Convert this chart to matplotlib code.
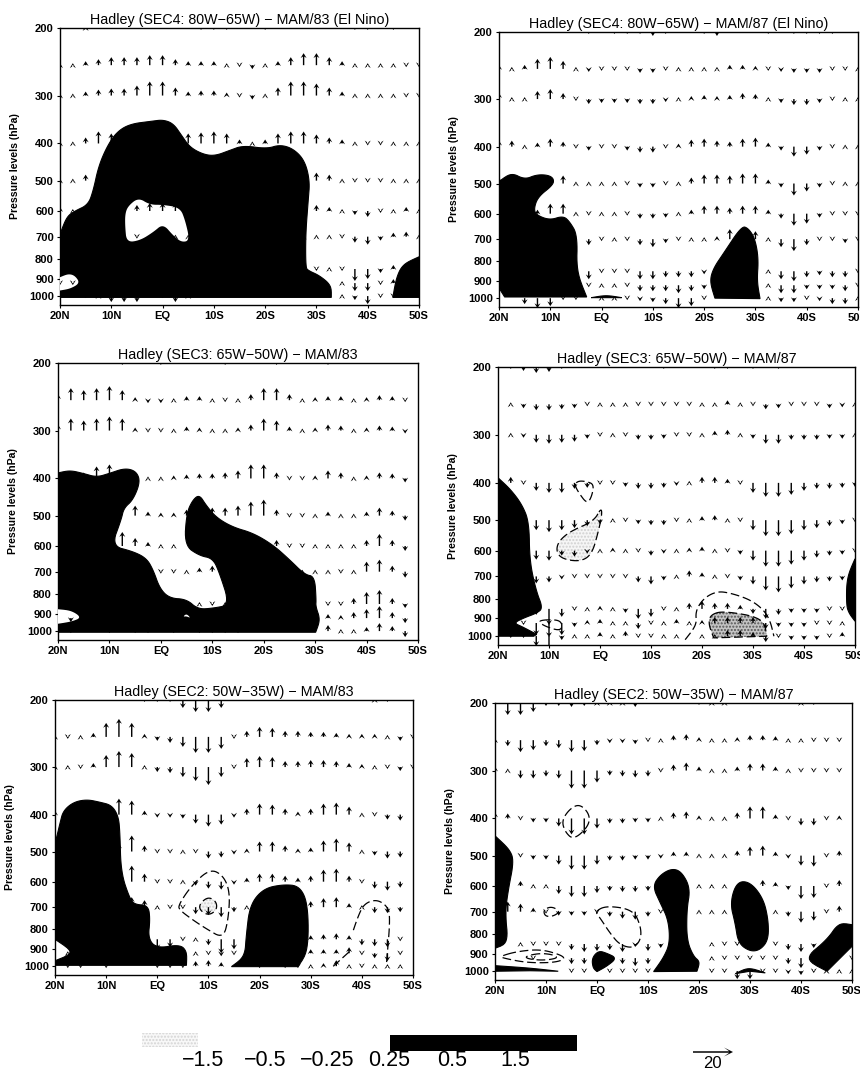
import numpy as np
import matplotlib
matplotlib.use("Agg")
import matplotlib.pyplot as plt

plt.rcParams['font.family'] = ['Liberation Sans', 'DejaVu Sans']

lats = [20 - 2.5 * i for i in range(29)]
levels = [200, 250, 300, 400, 500, 600, 700, 850, 925, 1000]
p_ticks = [200, 300, 400, 500, 600, 700, 800, 900, 1000]
lat_ticks = [20, 10, 0, -10, -20, -30, -40, -50]
lat_labels = ['20N', '10N', 'EQ', '10S', '20S', '30S', '40S', '50S']

titles = ['Hadley (SEC4: 80W\u221265W) \u2212 MAM/83 (El Nino)',
          'Hadley (SEC4: 80W\u221265W) \u2212 MAM/87 (El Nino)',
          'Hadley (SEC3: 65W\u221250W) \u2212 MAM/83',
          'Hadley (SEC3: 65W\u221250W) \u2212 MAM/87',
          'Hadley (SEC2: 50W\u221235W) \u2212 MAM/83',
          'Hadley (SEC2: 50W\u221235W) \u2212 MAM/87']

# vertical wind, one row per level, 0 = hidden by the shading or not drawn
w_sec4_83 = [
    [0,0,1,0,0, 0,0,0,0,0, 0,-1,-1,-1,0, 0,-1,0,0,0, 0,0,0,-1,-1, 0,-1,0,0],
    [1,1,2,3,4, 4,4,5,5,3, 2,2,2,1,-1, -2,1,2,4,6, 6,4,2,1,1, 1,1,-1,-1],
    [1,1,2,3,3.5, 3.5,5,7,7,4, 2,2.5,2.5,1.5,-1, -2,1,4,7,7, 6,4,2,1,1, 1,1,-1,-1],
    [1,1,3,6,5, 0,0,0,0,0, 5,5.5,6,5,2, 1,2,5,6,6, 4.5,3,2,1,-1, -1,1,1,1],
    [1,1,3,0,0, 0,0,0,0,0, 0,0,0,0,0, 0,0,0,0,0, 4,3,1,-1,-1, -1,1,1,1],
    [2,1,2,0,0, 0,3,4,4,4, 0,0,0,0,0, 0,0,0,0,0, 3,2,1,-2,-3, -1,1,2,1],
    [1,0,0,0,0, 0,-1,0,0,1, 1,0,0,0,0, 0,0,0,0,1, 1,1,-1,-3,-4, -2,2,2.5,1],
    [0,0,0,0,0, 0,0,0,0,0, 0,0,0,0,0, 0,0,0,0,0, -1,1,-1,-6,-5, -2,2,0,0],
    [-1,-1,0,0,0, 0,0,0,0,0, 0,0,0,0,0, 0,0,0,0,0, 0,0,1,-4,-4, -1,2,0,0],
    [0,0,-1,1,-3, -3,-3,0,-1,-3, 1,0,0,0,0, 0,0,0,0,0, 0,0,1,-2,-4, -1,-1,0,0],
]
w_sec4_87 = [
    [0,0,0,0,0, 0,0,-1,0,-1, -1,-1,-2,-1,0, 0,-1,-2,0,0, 0,-1,0,-1,-1, -1,-1,0,0],
    [2,1,2,5,6, 4,1,-1.5,-1,-1, -1,-2,-2,-1,1, 1,1,1,2,2, 1.5,-1,-1.5,-2,-2, -2,-1,-1,1],
    [3,1,1,4,5, 3,-1,-2.5,-2,-2, -2,-2.5,-2.5,-1.5,1, 1.5,2,1.5,2,3, 2.5,1,-2,-3,-3, -2,-1,1,1],
    [3,3,1,2,4, 2.5,-1,-2,-1,-1, -2,-3,-3,-1,1.5, 3.5,4,3,2.5,4, 4.5,2,-2,-5,-4, -2,-1,1,1],
    [3,0,0,0,3, 4,1,1,1,1, -1,-2,-2,-1,1, 3,4.5,4.5,4,5, 5,2,-2,-6,-4, -2,-1,1,1],
    [0,0,0,2,5, 5,1,-1,1,1, -1,-2.5,-2.5,-2,1, 2,4,4,3,4, 4,2,-2.5,-6,-5, -2,-1,-1,-1],
    [0,0,0,0,0, 0,0,-3,-1,1, -1,-3,-4,-2,-1, 1,1,1.5,5,0, 4,1,-4,-6,-3, -1,-1,-2,-1],
    [0,0,0,0,0, 0,0,-4,-1,-1, -1,-4,-4,-3,-3, -3,-1.5,0,0,0, 0,1,-4,-5,-3, -2,-3,-3,-1],
    [0,0,0,0,0, 0,0,-1,1,1, -1,-3,-3,-3,-4, -3,-2,0,0,0, 0,1,-4,-4,-2, -2,-2,-3,-1],
    [0,0,-3,-5,-4, -1,-1,0,1,1, -1,-1.5,-2,-3,-5, -4,-1,0,0,0, 0,1,-2,-2,-1, -1.5,-3,-3,1],
]
w_sec3_83 = [
    [0,0,0,0,0, -1,0,0,-1,0, 0,0,0,-1,0, 0,0,-1,0,0, 0,-1,0,0,0, 0,0,0,0],
    [3,6,5,6,7, 5,1.5,-1.5,-1.5,1, 2,2,1,-1,1, 3,6,6,3,1, 1.5,2,2,1,1.5, 2.5,2,-1,0],
    [3,6,5,6,7, 6,1.5,-1,-1,1, 2,1.5,1,1,1.5, 3,6,5,2,1, 1.5,3,2.5,1,1.5, 2.5,2,-1.5,0],
    [3,2,3,6,7, 3,0,1,1,1.5, 2,2.5,2.5,3,4, 7,7,3,-1,-1, 1.5,4,3,1,1.5, 3,2.5,-2,0],
    [0,0,0,0,0, 0,5,2,1.5,1.5, 3,0,4,4,5, 7,8,3,-1,-1, 1,2,1,1,2, 4,2.5,-2.5,0],
    [0,0,0,0,0, 7,4,2,1,1, 0,0,0,0,0, 0,3,3,-1,-1, 1,1,1,1,3, 6,3,-2.5,0],
    [0,0,0,0,0, 0,0,0,-1,-1, 1,2,3,0,0, 0,0,0,0,1, 1,1,-1,1,5, 6,3,-3,0],
    [0,0,0,0,0, 0,0,0,0,0, 0,1,-1,1,0, 0,0,0,0,0, 0,-1,-1,3,6, 7,3,-2,0],
    [0,-2,0,0,0, 0,0,0,0,0, 0,0,0,0,0, 0,0,0,0,0, 0,2,1.5,3,4.5, 6,3,-2.5,0],
    [0,-1,0,0,-1, 0,-1,-1,0,-1, 0,-1,-1,-1,-1, 0,0,0,0,0, 0,3,1,1,2, 4,2.5,-3,0],
]
w_sec3_87 = [
    [0,-1,-2,-3,-2.5, -1,0,0,0,0, 0,0,0,-1,0, 0,0,-1,-1,0, -1,0,-1,0,0, 0,0,0,0],
    [0,1,-2,-3,-3, -2.5,-2,-1,1,1, 1,-1,-1,-1,-1, -1,1,1,2,1, -1,-2.5,-2,-1,-1, -1,-2,-1.5,1],
    [0,1,-1.5,-4,-4.5, -4,-3.5,-2,-1,1, -1,-2.5,-2.5,-2,-1, -1,1,2,2.5,1, -2,-4.5,-4.5,-2.5,-2.5, -2.5,-2,-2,1],
    [3,3,-1,-4,-5, -5,-3,-2.5,-1,-1, -2,-3,-3,-2.5,-1.5, 1,3,3,2,-1, -5,-7,-7,-6,-4, -3,-3,-2.5,-2],
    [0,0,0,-5,-6, -5,-4,-3,-2,1, -1,-2,-2.5,-2.5,-1, 1,2,2.5,1,-1, -5,-8,-8,-7,-5, -4,-3,-2,-1],
    [0,0,0,-4.5,-5, -2.5,-3,-1.5,1,1.5, 1,-1,-2.5,-1.5,1, 1.5,2,1,-1,-2, -5,-8,-8,-7,-5, -3.5,-2.5,-2,-1],
    [0,0,0,-3.5,-3, -1.5,-1,-1,-1,-1, -1,-3,-4,-2,1, 3,2,1,-1,-2, -4,-7,-8,-6,-4, -3,-2.5,-2,0],
    [0,0,0,-3,-8, -4,-1,1,1.5,1, -2,-5,-4,-1,1, 3,4,3,3,2, -2.5,-5,-3,-2,-2, -2,-1,-1,0],
    [0,0,-1,-6,-7, -6,-2,1.5,2,1, 1,-3,-1,1,2, 1,1.5,3,3,3, 3,-3,-2,-2,-2, -1,-1,1,0],
    [0,-1,-1,-5,-9, -2,1,1,2,1, 2.5,-1,-1,1,1, 0,1,1,3,3, 2,-3,-1,-2,-2, -2,-1,2,0],
]
w_sec2_83 = [
    [0,0,0,0,0, 0,0,-1,-1,-1, -4,-6,-6,-4,0, 0,0,0,0,0, 0,0,0,0,0, 1,-1,0,0],
    [1,-1,1,2,7, 9,7,1.5,-2,-3, -5,-8,-8,-6,-1, 3,5,4.5,3,3, 2.5,2.5,2,1.5,1.5, 1.5,1,-2,-1],
    [1,1,-1,2,6, 8,7,1,-2.5,-3, -5,-7,-9,-5,-1, 4.5,5.5,5,3,3, 3.5,3.5,3,2,1.5, 1,-1,-2,-1],
    [2,0,0,0,0, 8,7,2,-1.5,-1.5, -2,-4.5,-6,-5,-1.5, 3,5.5,5,3,1.5, 3,5.5,6,4,1, -1,-2.5,-3,0],
    [0,0,0,0,0, 4,8,3,-1,-1, 1,-1,-3.5,-3,-1.5, 1.5,5,5,3,1.5, 2,5.5,6.5,4.5,1, -2,-3.5,-3,0],
    [0,0,0,0,0, 2,8,4,-1,-1, 1,-2,-3.5,-4,-1.5, 2,4,4,3,2, 3,6,6.5,3,-1, -3.5,-4.5,-3,0],
    [0,0,0,0,0, 0,5,3.5,1,-1, -1,-3.5,-4,-5,-2.5, 1,0,0,0,0, 3,4.5,5,2,1, -3,-3,-2.5,0],
    [0,0,0,0,0, 0,0,0,-5,-4, -1,1,-3,-7,-5, 0,0,0,0,0, 2,2.5,3,2,-3, -3.5,-4,-1,0],
    [0,1,0,0,0, 0,0,0,0,0, 0,1,-1,-1.5,-1, 0,0,0,0,0, 2,2,2,3,-1, -2.5,-4,-1,0],
    [0,-1,-1,0,-1, 0,0,0,-1,-1, -1,2.5,3,2,0, 0,-1,0,-1,-1, 1,1.5,3,1,-1, 1,1,1,0],
]
w_sec2_87 = [
    [0,-6,-6,-4.5,-1.5, -1.5,-2,-1.5,1,1, 1,-2,0,0,0, 0,-1,1,1,0, 0,0,0,0,1, -1,0,0,0],
    [1,-3,-6,-5,-3, -4,-6,-5.5,-2.5,-1.5, -1.5,-2,-1,1,2.5, 3,1.5,1,1,1.5, 2.5,2.5,2,1,1, -1,-1,-1,0],
    [2,1,-4,-4,-3, -4,-9,-9,-6,-2.5, -3,-3.5,-3,-1,3, 4,2,1,1,2, 3.5,3.5,2,1,-1, -1,-1,-1,0],
    [3,2.5,-1,-2,-2, -4,-8,-8,-5,-2.5, -2.5,-2,-2,1,3, 3.5,1.5,1,1,3, 6,6,2,-1,-3.5, -3.5,-1,1.5,0],
    [0,0,-1,-2,-2, -4.5,-7,-7,-4.5,-2.5, -2.5,-2,-2,-1.5,2, 2,1,1,1,2.5, 4.5,5,2,-1.5,-5, -5.5,-1,2.5,0],
    [0,0,2.5,1,1, -4,-5.5,-5.5,-3.5,-2.5, -3,-3,-2.5,0,0, 0,1,1,1,0, 0,3,2,-2,-6.5, -6,-1,3,0],
    [0,5,4,2,-1, -2,-2,-2,-1,-2.5, -3.5,-4,-2.5,-1,0, 0,1,1,1,0, 0,0,1,-2.5,-5.5, -4.5,-1,3,0],
    [0,0,1,-1,-1, -1,-3,-4,-3.5,-3, -4,-1.5,-3.5,-2,0, 0,0,1,-1,-1, 0,0,-1,-3,-4, -2,0,0,0],
    [0,0,0,-1,0, 0,-3,-3,-3,1, -3,-4,-3,0,0, 0,0,1,-1,-1, -1,-1,-1,-3,-5, 0,0,0,-1],
    [0,0,0,0,0, 0,-1,-1,0,-1, -1,-1,-1,0,0, 0,0,-1,-1,-4, -4,-1,-1,-1.5,-2, -1,1,1,1],
]

# shaded (> 0.25) regions as (lat, pressure) outlines
black_sec4_83 = [
    [(20,1008),(20,690),(18.7,621),(17.1,600),(14.5,578),(13.5,530),(12.5,460),(10.9,409),(9,374),(6.4,356),
     (2.1,350),(-0.1,347),(-2.1,355),(-3.7,381),(-5.3,409),(-7.9,427),(-10.2,431),(-13.1,417),(-15.7,405),
     (-20.3,413),(-22.9,403),(-25.5,413),(-27.7,443),(-28.7,500),(-28.4,563),(-27.9,688),(-27.9,841),
     (-28.4,858),(-30.6,884),(-32.9,938),(-32.9,1008)],
    [(-44.9,1008),(-45.6,893),(-46.9,825),(-50,790),(-50,1008)],
]
holes_sec4_83 = [
    [(7.3,610),(6.7,582),(4.7,554),(2.5,578),(-0.1,578),(-3.4,588),(-4.4,634),(-5.3,716),(-3.7,724),(-2.1,696),
     (-0.1,648),(1.8,681),(4.4,716),(7,724),(7.3,660)],
    [(20,893),(18.4,875),(17.1,884),(16.1,925),(18,957),(20,967)],
]
black_sec4_87 = [
    [(20,940),(18.9,993),(2.9,993),(4.9,851),(4.7,683),(6.2,630),(7.5,608),(10.1,624),(12.7,605),(13.2,583),
     (12.4,542),(9.5,505),(9.3,486),(10.4,475),(12.7,474),(15,488),(17.6,468),(20,494)],
    [(2,997),(-0.9,982),(-3.9,997)],
    [(-22.1,1000),(-21.1,903),(-21.8,835),(-23.8,762),(-27.3,647),(-28.6,655),(-29.9,697),(-30.6,787),(-30.3,903),(-30.9,1003)],
]
black_sec3_83 = [
    [(20,387),(17.7,381),(15.1,388),(12.5,397),(10,388),(7,376),(4.8,383),(4,408),(5.4,455),(7.2,478),(7.7,512),
     (9.6,600),(5.4,620),(2.8,646),(1.5,692),(0.2,775),(-1.7,821),(-5,826),(-7.2,877),(-10.1,872),(-13.4,855),
     (-11.4,705),(-10.1,646),(-7.5,636),(-4.6,598),(-5,493),(-6.2,455),(-7.5,441),(-8.8,470),(-10.8,506),
     (-14,536),(-17.9,555),(-21.8,596),(-25,651),(-28,713),(-29.9,720),(-30.2,829),(-30.1,862),(-31,934),
     (-30.1,1007),(20,1007)],
]
holes_sec3_83 = [
    [(20,877),(17.4,884),(15.4,922),(17.4,945),(20,957)],
    [(-4.3,917),(-5,901),(-5.8,925),(-5,915)],
]
black_sec3_87 = [
    [(20,388),(17.6,415),(15.3,455),(13.9,506),(13.8,638),(12.5,765),(11.2,846),(12.4,872),(15,898),(16.9,925),
     (15.3,945),(12.4,990),(13,1001),(20,1001)],
    [(-50,630),(-48.4,705),(-48.3,829),(-48.8,872),(-50,915)],
]
black_sec2_83 = [
    [(20,478),(19,420),(18.4,391),(16.4,371),(13.8,365),(11.2,371),(8.9,378),(7.6,404),(7.3,446),(7.1,567),
     (5.4,664),(4.4,689),(1.8,692),(1.4,751),(1.8,846),(0.1,898),(-4.4,877),(-5.8,915),(-5.7,995),(20,995),
     (20,968),(16.1,922),(20,850)],
    [(-14.5,1003),(-17.1,945),(-17.4,829),(-18.1,692),(-20.7,626),(-24.6,610),(-27.9,616),(-29.5,692),
     (-29.5,915),(-27.5,1003)],
]
black_sec2_87 = [
    [(20,444),(17.1,482),(16.3,517),(17.4,614),(18,705),(17.4,846),(20,872)],
    [(20,968),(13.1,982),(7.6,1001),(13.1,998),(20,1001)],
    [(1,925),(-0.3,885),(-1.9,898),(-3.9,925),(-1.9,972),(0,1003),(0.8,982)],
    [(-10.9,601),(-12.4,561),(-14.7,540),(-16.6,551),(-18.3,608),(-17.6,692),(-17.6,829),(-18.9,915),(-20.2,945),
     (-19.6,1001),(-11.1,1003),(-13,925),(-14.3,846),(-14,736),(-12.4,664)],
    [(-27.4,585),(-30,585),(-32.6,646),(-33.6,736),(-33.6,829),(-32,881),(-30,889),(-27.7,846),(-27.1,751),(-26.1,664)],
    [(-27.1,1016),(-29.7,977),(-33,1011),(-30,1001)],
    [(-40.5,930),(-45.1,829),(-47.4,748),(-50,757),(-50,862),(-45.1,1001)],
]

# dashed negative contours, (outline, closed, stipple colour or None)
dash_sec3_87 = [
    ([(5,404),(4.2,395),(2.5,397),(1.2,404),(1.6,433),(2.5,454),(4.2,424)], True, None),
    ([(-0.2,465),(1.2,503),(5.8,534),(8.1,567),(8.6,601),(7.5,630),(3.9,641),(1.6,614),(0.3,534),(-0.4,482)], True, 'light'),
    ([(-16.7,1022),(-19,934),(-18.7,862),(-20.3,798),(-22.9,765),(-25.6,773),(-29.5,805),(-32.1,855),(-33.4,915),(-34.1,1001)], False, None),
    ([(-21.6,881),(-24.2,860),(-32.1,898),(-32.7,1001),(-22.3,1011),(-21.3,934)], True, 'dark'),
    ([(12.2,915),(10.4,906),(7.5,911),(7.5,972),(10.7,945)], True, None),
]
dash_sec2_83 = [
    ([(-4.1,692),(-6.7,614),(-10.3,555),(-12.9,578),(-14.2,638),(-13.9,751),(-12.9,846),(-9.6,798),(-7,757),(-4.4,713)], True, None),
    ([(-8.3,685),(-10,657),(-11.6,678),(-11.6,713),(-10,736),(-8.3,713)], True, 'light'),
    ([(-37.6,862),(-39.3,736),(-40.5,685),(-42.8,668),(-44.8,692),(-45.6,736),(-44.8,989)], False, None),
    ([(-34.4,1001),(-37.6,915)], False, None),
]
dash_sec2_87 = [
    ([(6.9,404),(5.2,376),(3.3,367),(1.4,391),(1.7,420),(4.6,455),(6.3,433)], True, None),
    ([(10.5,692),(8.9,678),(7.2,699),(8.6,720),(10.2,720)], True, None),
    ([(0.4,699),(-1.9,675),(-7.1,692),(-8.6,765),(-8.6,829),(-7.1,872),(-4.5,855),(-2.6,798),(-0.6,727)], True, None),
    ([(19,915),(15.7,889),(11.1,877),(7.2,906),(6.2,930),(8.5,951),(13.8,951),(18.4,925)], True, None),
    ([(14.1,915),(11.2,898),(8.6,906),(7.6,925),(10.5,938),(13.5,930)], True, None),
]

winds = [w_sec4_83, w_sec4_87, w_sec3_83, w_sec3_87, w_sec2_83, w_sec2_87]
blacks = [black_sec4_83, black_sec4_87, black_sec3_83, black_sec3_87, black_sec2_83, black_sec2_87]
holes = [holes_sec4_83, [], holes_sec3_83, [], [], []]
dashes = [[], [], [], dash_sec3_87, dash_sec2_83, dash_sec2_87]

# axes boxes in pixels: left, right, top, bottom
boxes = [(60, 419, 28, 305), (499, 858, 32, 307),
         (58, 418, 363, 640), (498, 855, 367, 645),
         (55, 413, 700, 975), (495, 852, 703, 980)]

stipple_face = {'light': '#f6f6f6', 'dark': '#c4c4c4'}
stipple_edge = {'light': '#d0d0d0', 'dark': '#555555'}

W, H = 860, 1069
quiver_style = dict(angles='uv', scale_units='dots', scale=0.5, units='dots', width=1.4,
                    headwidth=4.3, headlength=3.5, headaxislength=2.4, minshaft=0.01,
                    minlength=0, pivot='tail', color='black', zorder=5)


def round_outline(poly, closed=True, passes=3):
    # corner cutting in lat / log p; points on the frame or the ground stay sharp
    pts = np.array(poly, dtype=float)
    pts[:, 1] = np.log(pts[:, 1])
    sharp = (np.abs(pts[:, 0]) >= 50) | (pts[:, 0] == 20) | (pts[:, 1] >= np.log(990))
    for _ in range(passes):
        new, flags = [], []
        n = len(pts)
        for j in range(n if closed else n - 1):
            a, b = pts[j], pts[(j + 1) % n]
            sa, sb = sharp[j], sharp[(j + 1) % n]
            if sa:
                new.append(a)
                flags.append(True)
            if not (sa and sb):
                if not sa:
                    new.append(0.75 * a + 0.25 * b)
                    flags.append(False)
                if not sb:
                    new.append(0.25 * a + 0.75 * b)
                    flags.append(False)
        if not closed:
            new.append(pts[-1])
            flags.append(bool(sharp[-1]))
        pts, sharp = np.array(new), np.array(flags)
    pts[:, 1] = np.exp(pts[:, 1])
    return pts


fig = plt.figure(figsize=(W / 100, H / 100), dpi=100)

for i, box in enumerate(boxes):
    l, r, t, b = box
    ax = fig.add_axes([l / W, 1 - b / H, (r - l) / W, (b - t) / H])
    ax.set_yscale('log')
    ax.set_xlim(20, -50)
    ax.set_ylim(1055, 200)

    for poly in blacks[i]:
        pts = round_outline(poly)
        ax.fill(pts[:, 0], pts[:, 1], color='black', lw=0.8, zorder=2)
    for poly in holes[i]:
        pts = round_outline(poly)
        ax.fill(pts[:, 0], pts[:, 1], color='white', lw=0, zorder=3)
    for poly, closed, stipple in dashes[i]:
        pts = round_outline(poly, closed)
        if stipple:
            ax.fill(pts[:, 0], pts[:, 1], facecolor=stipple_face[stipple], edgecolor=stipple_edge[stipple],
                    hatch='.....', lw=0, zorder=1)
        if closed:
            pts = np.vstack([pts, pts[:1]])
        ax.plot(pts[:, 0], pts[:, 1], color='black', lw=0.9, ls=(0, (7, 3)), zorder=4)

    X, Y = np.meshgrid(lats, levels)
    w = np.ma.masked_equal(np.array(winds[i], dtype=float), 0)
    ax.quiver(X, Y, np.zeros_like(w), w, **quiver_style)

    ax.set_yticks(p_ticks)
    ax.set_yticklabels([str(p) for p in p_ticks])
    ax.minorticks_off()
    ax.set_xticks(lat_ticks)
    ax.set_xticklabels(lat_labels)
    ax.tick_params(length=2.5, width=0.8, pad=2, labelsize=8)
    for lab in ax.get_xticklabels() + ax.get_yticklabels():
        lab.set_fontweight('bold')
    ax.set_ylabel('Pressure levels (hPa)', fontsize=7.6, fontweight='bold')
    ax.yaxis.set_label_coords(-40 / (r - l), 0.5)
    ax.set_title(titles[i], fontsize=10.3, pad=3)
    for s in ax.spines.values():
        s.set_linewidth(1)

# legend strip along the bottom, laid out in pixels
leg = fig.add_axes([0, 0, 1, 1], facecolor='none')
leg.set_xlim(0, W)
leg.set_ylim(H, 0)
leg.axis('off')
leg.fill_between([142, 198], 1033, 1047, facecolor='#f8f8f8', edgecolor='#d4d4d4', hatch='.....', lw=0)
leg.fill_between([390, 577], 1035, 1051, color='black', lw=0)
legend_labels = ['\u22121.5', '\u22120.5', '\u22120.25', '0.25', '0.5', '1.5']
legend_x = [203, 265, 327, 389, 452, 515]
for x, s in zip(legend_x, legend_labels):
    leg.text(x, 1060, s, ha='center', va='center', fontsize=15.5)
leg.quiver([693], [1052], [20], [0], angles='uv', scale_units='dots', scale=0.5, units='dots', width=1.5,
           headwidth=6, headlength=6, headaxislength=2.5, pivot='tail', color='black')
leg.text(712, 1063, '20', ha='center', va='center', fontsize=12)

fig.savefig('out.png', dpi=100)
